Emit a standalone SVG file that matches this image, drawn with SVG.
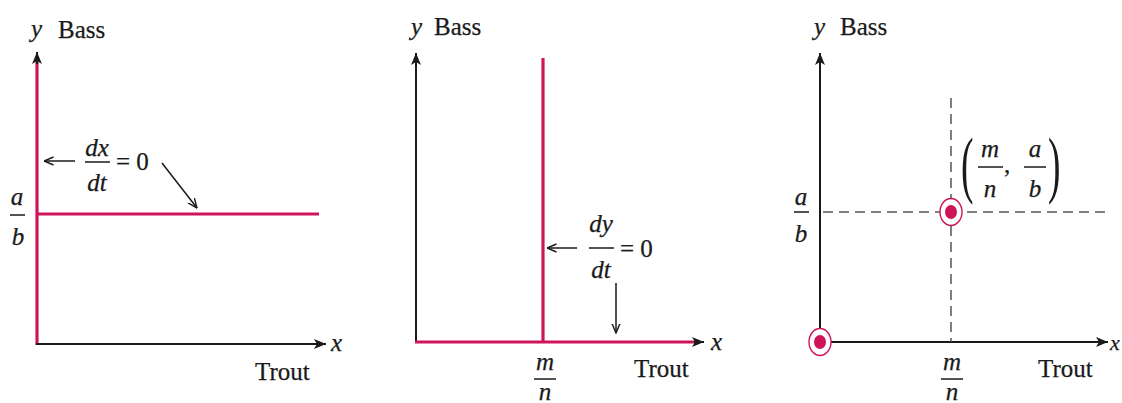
<svg xmlns="http://www.w3.org/2000/svg" width="1122" height="403" viewBox="0 0 1122 403">
<style>
text{font-family:'Liberation Serif','DejaVu Serif',serif;font-size:25px;fill:#1a1a1a;stroke:#1a1a1a;stroke-width:0.25}
.i{font-style:italic}
.m{text-anchor:middle}
.ax{stroke:#1a1a1a;stroke-width:2;fill:none}
.pk{stroke:#d0145a;stroke-width:3.2;fill:none}
.th{stroke:#1a1a1a;stroke-width:1.5;fill:none}
.bar{stroke:#1a1a1a;stroke-width:1.5}
.ds{stroke:#555;stroke-width:1.5;fill:none;stroke-dasharray:10 6}
.par{font-size:75px;font-style:normal;stroke-width:0}
</style>
<defs>
<marker id="ah" viewBox="0 0 12 10" refX="12" refY="5" markerWidth="12" markerHeight="10" markerUnits="userSpaceOnUse" orient="auto">
<path d="M0,0 L12,5 L0,10 L3,5 z" fill="#1a1a1a"/>
</marker>
<marker id="vh" viewBox="0 0 10 10" refX="9.5" refY="5" markerWidth="10" markerHeight="10" markerUnits="userSpaceOnUse" orient="auto">
<path d="M0,1 L9.5,5 L0,9" fill="none" stroke="#1a1a1a" stroke-width="1.4"/>
</marker>
</defs>

<g id="panel1">
<line class="pk" x1="37" y1="345" x2="37" y2="62"/>
<line class="ax" x1="37" y1="64" x2="37" y2="52" marker-end="url(#ah)"/>
<line class="ax" x1="36" y1="344" x2="326" y2="344" marker-end="url(#ah)"/>
<line class="pk" x1="37" y1="214" x2="319" y2="214"/>
<text class="i" x="31" y="37">y</text>
<text x="58" y="38">Bass</text>
<text class="i" x="331" y="351">x</text>
<text x="255" y="380">Trout</text>
<text class="i m" x="17" y="205">a</text>
<line class="bar" x1="10" y1="215" x2="25" y2="215"/>
<text class="i m" x="18" y="245">b</text>
</g>

<g id="label1">
<text class="i m" x="97" y="156">dx</text>
<line class="bar" x1="85" y1="162" x2="110" y2="162"/>
<text class="i m" x="97" y="191">dt</text>
<text x="116" y="170">= 0</text>
</g>

<g id="panel2">
<line class="ax" x1="416" y1="343" x2="416" y2="53" marker-end="url(#ah)"/>
<line class="pk" x1="415" y1="342" x2="696" y2="342"/>
<line class="ax" x1="694" y1="342" x2="704" y2="342" marker-end="url(#ah)"/>
<line class="pk" x1="543" y1="58" x2="543" y2="342"/>
<text class="i" x="411" y="35">y</text>
<text x="434" y="35">Bass</text>
<text class="i" x="711" y="350">x</text>
<text x="634" y="377">Trout</text>
<text class="i m" x="545" y="370">m</text>
<line class="bar" x1="534" y1="379" x2="556" y2="379"/>
<text class="i m" x="545" y="400">n</text>
</g>

<g id="label2">
<text class="i m" x="601" y="232">dy</text>
<line class="bar" x1="589" y1="248" x2="614" y2="248"/>
<text class="i m" x="601" y="278">dt</text>
<text x="620" y="257">= 0</text>
</g>

<g id="panel3">
<line class="ax" x1="820" y1="343" x2="820" y2="53" marker-end="url(#ah)"/>
<line class="ax" x1="820" y1="342" x2="1108" y2="342" marker-end="url(#ah)"/>
<line class="ds" x1="951" y1="98" x2="951" y2="342"/>
<line class="ds" x1="823" y1="212" x2="1105" y2="212"/>
<text class="i" x="814" y="35">y</text>
<text x="840" y="35">Bass</text>
<text class="i" x="1110" y="350" style="font-size:22px">x</text>
<text x="1038" y="377">Trout</text>
<text class="i m" x="801" y="205">a</text>
<line class="bar" x1="794" y1="212" x2="809" y2="212"/>
<text class="i m" x="801" y="242">b</text>
<text class="i m" x="952" y="370">m</text>
<line class="bar" x1="941" y1="379" x2="963" y2="379"/>
<text class="i m" x="952" y="400">n</text>
</g>

<g id="equilibrium1">
<ellipse cx="951" cy="212" rx="11" ry="13.5" fill="#fff" stroke="#d0145a" stroke-width="1.4"/>
<ellipse cx="951" cy="212" rx="6" ry="7" fill="#d0145a"/>
</g>
<g id="equilibrium0">
<ellipse cx="820" cy="342" rx="11" ry="13.5" fill="#fff" stroke="#d0145a" stroke-width="1.4"/>
<ellipse cx="820" cy="342" rx="6" ry="7" fill="#d0145a"/>
</g>

<g id="label3">
<text class="par" x="0" y="0" transform="translate(961 189) scale(0.5 1)">(</text>
<text class="i m" x="990" y="157">m</text>
<line class="bar" x1="978" y1="167" x2="1003" y2="167"/>
<text class="i m" x="990" y="197">n</text>
<text x="1004" y="173">,</text>
<text class="i m" x="1035" y="157">a</text>
<line class="bar" x1="1024" y1="167" x2="1046" y2="167"/>
<text class="i m" x="1035" y="197">b</text>
<text class="par" x="0" y="0" transform="translate(1048 189) scale(0.5 1)">)</text>
</g>

<g id="connectors">
<line class="th" x1="75" y1="161" x2="44" y2="161" marker-end="url(#vh)"/>
<line class="th" x1="162" y1="163" x2="197" y2="208" marker-end="url(#vh)"/>
<line class="th" x1="577" y1="248" x2="547" y2="248" marker-end="url(#vh)"/>
<line class="th" x1="616" y1="283" x2="616" y2="333" marker-end="url(#vh)"/>
</g>
</svg>
